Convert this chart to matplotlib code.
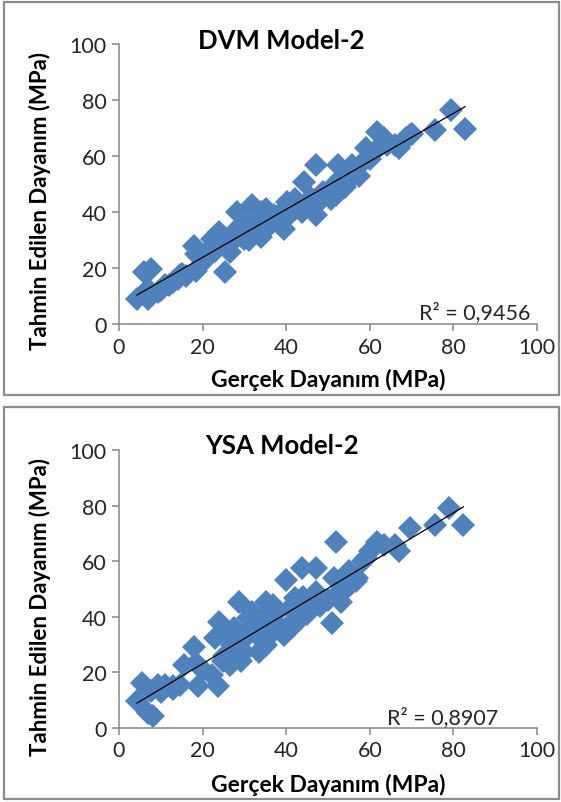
import numpy as np
import matplotlib
matplotlib.use("Agg")
import matplotlib.pyplot as plt
from matplotlib.patches import Rectangle

plt.rcParams['font.family'] = ['Lato', 'DejaVu Sans']

####################################################### Data
# DVM Model-2 : actual vs predicted strength (MPa)
dvm_actual = [4.3, 6, 7.7, 6.9, 6.9, 9.4, 11, 12.9, 14.6, 18, 18.5, 18.5, 22.3, 24, 23, 25.3,
              26.6, 28.3, 27.5, 30, 31.8, 30.9, 33.5, 35.2, 36.9, 39.5, 40.3, 42, 43.8, 44.2,
              47.2, 47.2, 48.9, 50.6, 52.4, 54, 55.8, 57.5, 59.2, 60, 61.8, 63.5, 67, 68.7,
              69.5, 75.5, 79.4, 82.8,
              10, 12, 14, 15, 16, 20, 22, 24, 25, 26, 27, 28, 29, 30, 31, 32, 33, 34, 34, 35,
              36, 37, 38, 39, 40, 41, 42, 43, 45, 46, 48, 49, 50, 51, 52, 53, 54, 55, 56, 58,
              62, 64, 66, 70]
dvm_pred = [9.1, 18.6, 19.8, 12.6, 9, 11.4, 14, 15, 17.4, 28, 19, 25, 30.5, 33, 26, 18.6,
            25.7, 40, 33, 30.5, 42.4, 35.3, 33, 41, 37.7, 34, 43.6, 44.8, 40, 50.8,
            56.7, 38.9, 47.2, 44.8, 56.7, 50.8, 56.7, 53, 62.7, 59, 68.7, 66.3, 62.7, 66.3,
            67.5, 69.2, 76.4, 69.8,
            12, 14, 16, 18, 17, 22, 27, 29, 31, 28, 30, 32, 34, 36, 30, 33, 38, 40, 31, 36,
            35, 39, 36, 40, 38, 42, 41, 42, 43, 45, 44, 46, 47, 49, 46, 52, 49, 54, 53, 57,
            63, 64, 64, 68]

# YSA Model-2
ysa_actual = [4.3, 5.6, 6.9, 8.2, 7.7, 9.4, 11, 12.9, 14.6, 15.5, 18, 18.5, 18.9, 22.3, 23.6,
              24, 23, 24.9, 26.6, 27.5, 28.8, 29.2, 30, 30.9, 31.8, 33.5, 33.5, 35.2, 35.2,
              36.9, 37.8, 39.5, 39.9, 41.2, 42, 42.9, 43.8, 45.5, 47.2, 47.2, 48.9, 51, 51.5,
              52, 53.2, 55, 56.7, 58.4, 60, 61.8, 63.5, 66, 67, 69.5, 75.5, 79, 82.4,
              10, 13, 20, 25, 26, 27, 28, 30, 31, 32, 34, 35, 36, 37, 38, 40, 41, 43, 44, 45,
              46, 48, 50, 52, 54, 55, 57, 59]
ysa_pred = [9.6, 16.2, 5.4, 4.2, 13.2, 15.6, 15.6, 15, 15.6, 22.8, 29.3, 23.4, 15, 19.2, 15,
            38.3, 32.3, 24, 22.8, 35.9, 45.5, 24, 27.5, 39.5, 41.9, 27.5, 34.7, 45.5, 29.9,
            44.3, 35.9, 33.5, 53.3, 35.9, 46.7, 40.7, 57.5, 44.3, 57.5, 49.1, 45.5, 37.7, 53.9,
            67, 45.5, 56.3, 52.7, 59.9, 63.5, 67, 65.9, 65.9, 63.5, 71.9, 73, 79, 73,
            13, 14, 21, 26, 33, 30, 34, 32, 35, 37, 32, 40, 33, 38, 42, 36, 43, 39, 47, 41,
            43, 44, 46, 48, 50, 51, 54, 61]

titles = ['DVM Model-2', 'YSA Model-2']
r2_labels = ['R² = 0,9456', 'R² = 0,8907']
ticks = [0, 20, 40, 60, 80, 100]

####################################################### Layout (pixels -> figure fractions)
W, H = 561, 803
fig = plt.figure(figsize=(W / 100, H / 100), dpi=100)

axes_px = [(119, 45, 537, 325), (119, 451, 537, 729)]      # left, top, right, bottom
frames_px = [(4, 3, 559, 396), (4, 408, 559, 800)]
title_y = [41, 446]
r2_pos = [(530, 313), (498, 718)]
xlab_y = [380, 785]
ylab_c = [(40, 201), (40, 607)]

blue = '#4F81BD'
axis_grey = '#868686'
txt = '#262626'

panels = [(dvm_actual, dvm_pred), (ysa_actual, ysa_pred)]

for k, (xa, ya) in enumerate(panels):
    l, t, r, b = axes_px[k]
    ax = fig.add_axes([l / W, 1 - b / H, (r - l) / W, (b - t) / H])
    xa = np.array(xa)
    ya = np.array(ya)
    ax.plot(xa, ya, 'D', color=blue, ms=11.8, mec=blue, mew=0, zorder=2, clip_on=False)
    # linear trendline
    m, c = np.polyfit(xa, ya, 1)
    xx = np.array([xa.min(), xa.max()])
    ax.plot(xx, m * xx + c, color='black', lw=0.9, zorder=3)

    ax.set_xlim(0, 100)
    ax.set_ylim(0, 100)
    ax.set_xticks(ticks)
    ax.set_yticks(ticks)
    for s in ['top', 'right']:
        ax.spines[s].set_visible(False)
    for s in ['left', 'bottom']:
        ax.spines[s].set_color(axis_grey)
        ax.spines[s].set_linewidth(1.1)
    ax.tick_params(direction='out', length=5, width=1.1, color=axis_grey,
                   labelsize=15.5, labelcolor=txt, pad=4)

    fl, ft, fr, fb = frames_px[k]
    fig.patches.append(Rectangle((fl / W, 1 - fb / H), (fr - fl) / W, (fb - ft) / H,
                                 transform=fig.transFigure, fill=False,
                                 edgecolor='#8c8c8c', lw=1.6))
    fig.text(((fl + fr) / 2) / W, 1 - title_y[k] / H, titles[k], ha='center', va='center',
             fontsize=18.5, fontweight='bold', color='black')
    fig.text(r2_pos[k][0] / W, 1 - r2_pos[k][1] / H, r2_labels[k], ha='right', va='center',
             fontsize=15.5, color=txt)
    fig.text(((l + r) / 2) / W, 1 - xlab_y[k] / H, 'Gerçek Dayanım (MPa)', ha='center',
             va='center', fontsize=16.5, fontweight='bold', color='black')
    fig.text(ylab_c[k][0] / W, 1 - ylab_c[k][1] / H, 'Tahmin Edilen Dayanım (MPa)',
             ha='center', va='center', rotation=90, fontsize=16, fontweight='bold',
             color='black')

fig.savefig('out.png', dpi=100)
